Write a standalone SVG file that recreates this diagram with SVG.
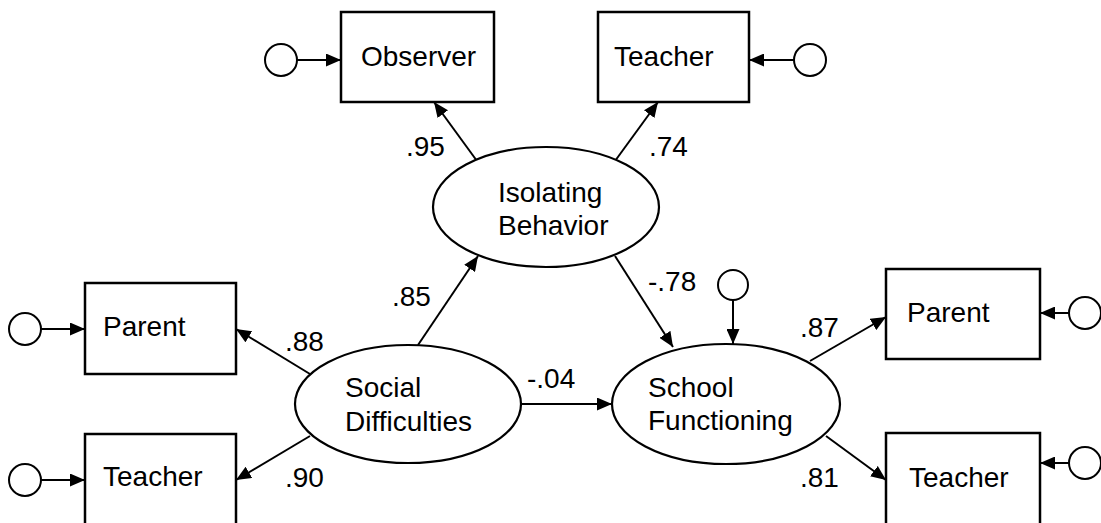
<svg xmlns="http://www.w3.org/2000/svg" width="1101" height="523" viewBox="0 0 1101 523">
<style>
.box{fill:#fff;stroke:#000;stroke-width:2.5}
.lat{fill:#fff;stroke:#000;stroke-width:2.2}
.err{fill:#fff;stroke:#000;stroke-width:2}
.ln{stroke:#000;stroke-width:2;fill:none;marker-end:url(#ah)}
text{font-family:"Liberation Sans",Arial,Helvetica,sans-serif;font-size:28px;fill:#000}
</style>
<defs>
<marker id="ah" markerWidth="15" markerHeight="13" refX="15" refY="6.5" orient="auto" markerUnits="userSpaceOnUse"><path d="M0,0 L15,6.5 L0,13 z" fill="#000"/></marker>
</defs>
<rect width="1101" height="523" fill="#fff"/>
<g id="connectors">
<line class="ln" x1="297" y1="60" x2="341" y2="60"/>
<line class="ln" x1="794" y1="60" x2="749" y2="60"/>
<line class="ln" x1="41" y1="329" x2="85" y2="329"/>
<line class="ln" x1="41" y1="480" x2="85" y2="480"/>
<line class="ln" x1="1069" y1="313" x2="1040" y2="313"/>
<line class="ln" x1="1069" y1="463" x2="1040" y2="463"/>
<line class="ln" x1="733" y1="300" x2="733" y2="344"/>
<line class="ln" x1="477" y1="161" x2="434" y2="102"/>
<line class="ln" x1="615" y1="161" x2="658" y2="102"/>
<line class="ln" x1="418" y1="345" x2="478" y2="256"/>
<line class="ln" x1="615" y1="256" x2="673" y2="347"/>
<line class="ln" x1="310" y1="374" x2="236" y2="329"/>
<line class="ln" x1="310" y1="436" x2="236" y2="480"/>
<line class="ln" x1="522" y1="404" x2="612" y2="404"/>
<line class="ln" x1="810" y1="361" x2="886" y2="317"/>
<line class="ln" x1="826" y1="436" x2="886" y2="480"/>
<text x="406" y="156">.95</text>
<text x="649" y="156">.74</text>
<text x="392" y="306">.85</text>
<text x="648" y="291">-.78</text>
<text x="285" y="351">.88</text>
<text x="285" y="487">.90</text>
<text x="527" y="388">-.04</text>
<text x="800" y="337">.87</text>
<text x="800" y="487">.81</text>
</g>
<g id="e-observer"><circle class="err" cx="281" cy="60" r="16"/></g>
<g id="observer"><rect class="box" x="341" y="12" width="153" height="90"/><text x="361" y="66">Observer</text></g>
<g id="teacher-top"><rect class="box" x="598" y="12" width="151" height="90"/><text x="614" y="66">Teacher</text></g>
<g id="e-teacher-top"><circle class="err" cx="810" cy="60" r="16"/></g>
<g id="isolating"><ellipse class="lat" cx="546" cy="207" rx="113" ry="60"/><text x="498" y="202">Isolating</text><text x="498" y="235">Behavior</text></g>
<g id="e-parent-left"><circle class="err" cx="25" cy="329" r="16"/></g>
<g id="parent-left"><rect class="box" x="85" y="283" width="151" height="91"/><text x="103" y="336">Parent</text></g>
<g id="e-teacher-left"><circle class="err" cx="25" cy="480" r="16"/></g>
<g id="teacher-left"><rect class="box" x="85" y="434" width="151" height="110"/><text x="103" y="486">Teacher</text></g>
<g id="social"><ellipse class="lat" cx="408" cy="404" rx="113" ry="59"/><text x="345" y="397">Social</text><text x="345" y="431">Difficulties</text></g>
<g id="d-school"><circle class="err" cx="733" cy="285" r="15"/></g>
<g id="school"><ellipse class="lat" cx="726" cy="404" rx="114" ry="60"/><text x="648" y="397">School</text><text x="648" y="430">Functioning</text></g>
<g id="parent-right"><rect class="box" x="886" y="269" width="154" height="90"/><text x="907" y="322">Parent</text></g>
<g id="e-parent-right"><circle class="err" cx="1085" cy="313" r="16"/></g>
<g id="teacher-right"><rect class="box" x="886" y="433" width="154" height="110"/><text x="909" y="487">Teacher</text></g>
<g id="e-teacher-right"><circle class="err" cx="1085" cy="463" r="16"/></g>
</svg>
